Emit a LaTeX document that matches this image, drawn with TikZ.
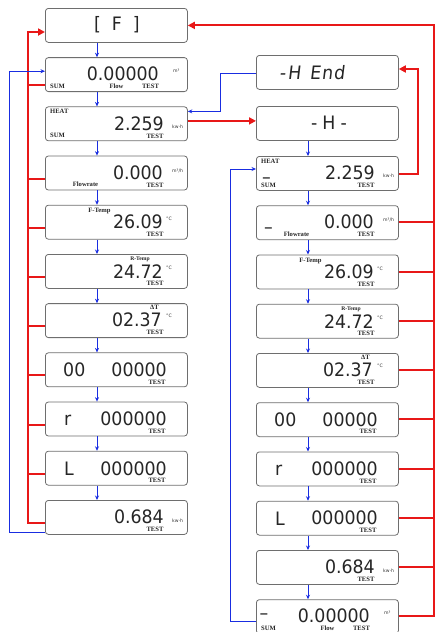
\documentclass[tikz,border=0pt]{standalone}
\usepackage{fontspec}
\usetikzlibrary{arrows.meta,calc}
\newfontfamily\lcdfont[FakeStretch=0.94]{DejaVu Sans}
\newfontfamily\lcdslant[FakeStretch=0.94,FakeSlant=0.12]{DejaVu Sans}
\newfontfamily\labfont{Liberation Serif}
\newfontfamily\unitfont{DejaVu Sans}
\definecolor{lcdred}{RGB}{232,24,24}
\definecolor{lcdblue}{RGB}{25,45,225}
\definecolor{boxgray}{RGB}{110,110,110}
\tikzset{
 lcdbox/.style={draw=boxgray, line width=0.8pt, rounded corners=3pt, minimum width=142pt, minimum height=34pt, inner sep=0pt, anchor=north west, fill=white},
 big/.style={font=\lcdfont\fontsize{18.5}{18.5}\selectfont, inner sep=0pt, text=black!85},
 bigs/.style={font=\lcdslant\fontsize{18.5}{18.5}\selectfont, inner sep=0pt, text=black!85},
 lab/.style={font=\labfont\bfseries\fontsize{6.6}{6.6}\selectfont, inner sep=0pt, text depth=0pt, text=black!85},
 labs/.style={font=\labfont\bfseries\fontsize{5.6}{5.6}\selectfont, inner sep=0pt, text depth=0pt, text=black!85},
 unit/.style={font=\unitfont\fontsize{4.6}{4.6}\selectfont, inner sep=0pt, text=black!80},
 bl/.style={draw=lcdblue, line width=1pt, -{Stealth[length=4.5pt,width=4pt]}},
 rd/.style={draw=lcdred, line width=2pt, -{Triangle[length=7pt,width=7pt]}},
 rdline/.style={draw=lcdred, line width=2pt},
}
\newcommand\cF[1]{\node[big] (#1t) at (72,17) {[\kern11pt F\kern11pt]};}
\newcommand\cSum[1]{%
 \node[big,anchor=east] (#1d) at (114,17) {0.00000};
 \node[unit,anchor=west] (#1u) at (128,14) {m³};
 \node[lab,anchor=west] (#1s) at (5,29) {SUM};
 \node[lab] (#1f) at (71.5,29) {Flow};
 \node[lab] (#1t) at (105.5,29) {TEST};}
\newcommand\cHeat[1]{%
 \node[lab,anchor=west] (#1h) at (5,5) {HEAT};
 \node[big,anchor=east] (#1d) at (119,17) {2.259};
 \node[unit,anchor=west] (#1u) at (127,20) {kw·h};
 \node[lab,anchor=west] (#1s) at (5,29) {SUM};
 \node[lab] (#1t) at (110,29.5) {TEST};}
\newcommand\cFlow[1]{%
 \node[big,anchor=east] (#1d) at (118,17) {0.000};
 \node[unit,anchor=west] (#1u) at (127,15) {m³/h};
 \node[lab] (#1f) at (40.5,29) {Flowrate};
 \node[lab] (#1t) at (110,29.5) {TEST};}
\newcommand\cFT[1]{%
 \node[lab] (#1l) at (54.5,5.5) {F-Temp};
 \node[big,anchor=east] (#1d) at (118,17) {26.09};
 \node[unit,anchor=west] (#1u) at (121,14) {°C};
 \node[lab] (#1t) at (110,29.5) {TEST};}
\newcommand\cRT[1]{%
 \node[labs] (#1l) at (95,5) {R-Temp};
 \node[big,anchor=east] (#1d) at (118,17.5) {24.72};
 \node[unit,anchor=west] (#1u) at (121,14) {°C};
 \node[lab] (#1t) at (110,29.5) {TEST};}
\newcommand\cDT[1]{%
 \node[lab] (#1l) at (109.5,4.5) {ΔT};
 \node[big,anchor=east] (#1d) at (117,17) {02.37};
 \node[unit,anchor=west] (#1u) at (121,13) {°C};
 \node[lab] (#1t) at (110,29.5) {TEST};}
\newcommand\cZero[1]{%
 \node[big,anchor=west] (#1a) at (18,17.5) {00};
 \node[big,anchor=east] (#1d) at (122,17.5) {00000};
 \node[lab] (#1t) at (112,29.5) {TEST};}
\newcommand\cR[1]{%
 \node[big,anchor=west] (#1a) at (19,18.5) {r};
 \node[big,anchor=east] (#1d) at (122,17.5) {000000};
 \node[lab] (#1t) at (112,29.5) {TEST};}
\newcommand\cL[1]{%
 \node[big,anchor=west] (#1a) at (19,17.5) {L};
 \node[big,anchor=east] (#1d) at (122,17.5) {000000};
 \node[lab] (#1t) at (112,29.5) {TEST};}
\newcommand\cE[1]{%
 \node[big,anchor=east] (#1d) at (119,17) {0.684};
 \node[unit,anchor=west] (#1u) at (127,21) {kw·h};
 \node[lab] (#1t) at (110,29.5) {TEST};}
\newcommand\cDash[3]{\node[big,anchor=base west] (#1) at (#2,#3) {–};}
\newcommand\lcdcontent[2]{\begin{scope}[shift={(#1.north west)}]#2{#1x}\end{scope}}
\begin{document}
\begin{tikzpicture}[x=1pt,y=-1pt]
\useasboundingbox (0,0) rectangle (435,632);
% left column
\node[lcdbox] (F) at (45,8) {};
\node[lcdbox] (L1) at (45,57.2) {};
\node[lcdbox] (L2) at (45,106.4) {};
\node[lcdbox] (L3) at (45,155.6) {};
\node[lcdbox] (L4) at (45,204.8) {};
\node[lcdbox] (L5) at (45,254) {};
\node[lcdbox] (L6) at (45,303.2) {};
\node[lcdbox] (L7) at (45,352.4) {};
\node[lcdbox] (L8) at (45,401.6) {};
\node[lcdbox] (L9) at (45,450.8) {};
\node[lcdbox] (L10) at (45,500) {};
% right column
\node[lcdbox] (HE) at (256,55) {};
\node[lcdbox] (HM) at (256,106) {};
\node[lcdbox] (R1) at (256,156) {};
\node[lcdbox] (R2) at (256,205.25) {};
\node[lcdbox] (R3) at (256,254.5) {};
\node[lcdbox] (R4) at (256,303.75) {};
\node[lcdbox] (R5) at (256,353) {};
\node[lcdbox] (R6) at (256,402.25) {};
\node[lcdbox] (R7) at (256,451.5) {};
\node[lcdbox] (R8) at (256,500.75) {};
\node[lcdbox] (R9) at (256,550) {};
\node[lcdbox] (R10) at (256,599.25) {};
% contents
\lcdcontent{F}{\cF}
\lcdcontent{L1}{\cSum}
\lcdcontent{L2}{\cHeat}
\lcdcontent{L3}{\cFlow}
\lcdcontent{L4}{\cFT}
\lcdcontent{L5}{\cRT}
\lcdcontent{L6}{\cDT}
\lcdcontent{L7}{\cZero}
\lcdcontent{L8}{\cR}
\lcdcontent{L9}{\cL}
\lcdcontent{L10}{\cE}
\begin{scope}[shift={(HE.north west)}]
 \node[bigs] (HEt) at (56,18) {-\kern2pt H\kern9pt E\kern1pt n\kern1pt d};
\end{scope}
\begin{scope}[shift={(HM.north west)}]
 \node[big] (HMt) at (73,17) {-\kern5pt H\kern5pt -};
\end{scope}
\lcdcontent{R1}{\cHeat}
\lcdcontent{R2}{\cFlow}
\lcdcontent{R3}{\cFT}
\lcdcontent{R4}{\cRT}
\lcdcontent{R5}{\cDT}
\lcdcontent{R6}{\cZero}
\lcdcontent{R7}{\cR}
\lcdcontent{R8}{\cL}
\lcdcontent{R9}{\cE}
\lcdcontent{R10}{\cSum}
\begin{scope}[shift={(R1.north west)}]\cDash{R1m}{6}{27}\end{scope}
\begin{scope}[shift={(R2.north west)}]\cDash{R2m}{8}{28.5}\end{scope}
\begin{scope}[shift={(R10.north west)}]\cDash{R10m}{3.5}{20.5}\end{scope}
% blue down arrows
\foreach \a/\b in {F/L1,L1/L2,L2/L3,L3/L4,L4/L5,L5/L6,L6/L7,L7/L8,L8/L9,L9/L10,
                   HM/R1,R1/R2,R2/R3,R3/R4,R4/R5,R5/R6,R6/R7,R7/R8,R8/R9,R9/R10}
  \draw[bl] ($(\a.south west)+(52,0)$) -- ($(\b.north west)+(52,0)$);
% left red bus
\draw[rdline] ($(L1.north west)+(0,28)$) -- ++(-17,0);
\foreach \n in {L3,L4,L5,L6,L7,L8,L9}
  \draw[rdline] ($(\n.north west)+(0,23)$) -- ++(-17,0);
\draw[rd] ($(L10.north west)+(0,23)$) -- ++(-17,0) |- ($(F.north west)+(0,24)$);
% left blue loop
\draw[bl] ($(L10.north west)+(0,32)$) -- ++(-36,0) |- ($(L1.north west)+(0,14)$);
% HEAT -> -H-
\coordinate (hp) at ($(L2.north east)+(0,14.5)$);
\draw[rd] (hp) -- (hp -| HM.west);
% -H End -> HEAT
\draw[bl] ($(HE.north west)+(0,18)$) -- ++(-36,0) |- ($(L2.north east)+(0,5)$);
% right HEAT -> -H End
\draw[rd] ($(R1.north east)+(0,18)$) -- ++(19,0) |- ($(HE.north east)+(0,14)$);
% right red bus
\foreach \n in {R2,R3,R4,R5,R6,R7,R8,R9}
  \draw[rdline] ($(\n.north east)+(0,17)$) -- ++(35,0);
\draw[rd] ($(R10.north east)+(0,17)$) -- ++(35,0) |- (F.east);
% right blue loop
\draw[bl] ($(R10.north west)+(0,22)$) -- ++(-26,0) |- ($(R1.north west)+(0,13)$);
\end{tikzpicture}
\end{document}
